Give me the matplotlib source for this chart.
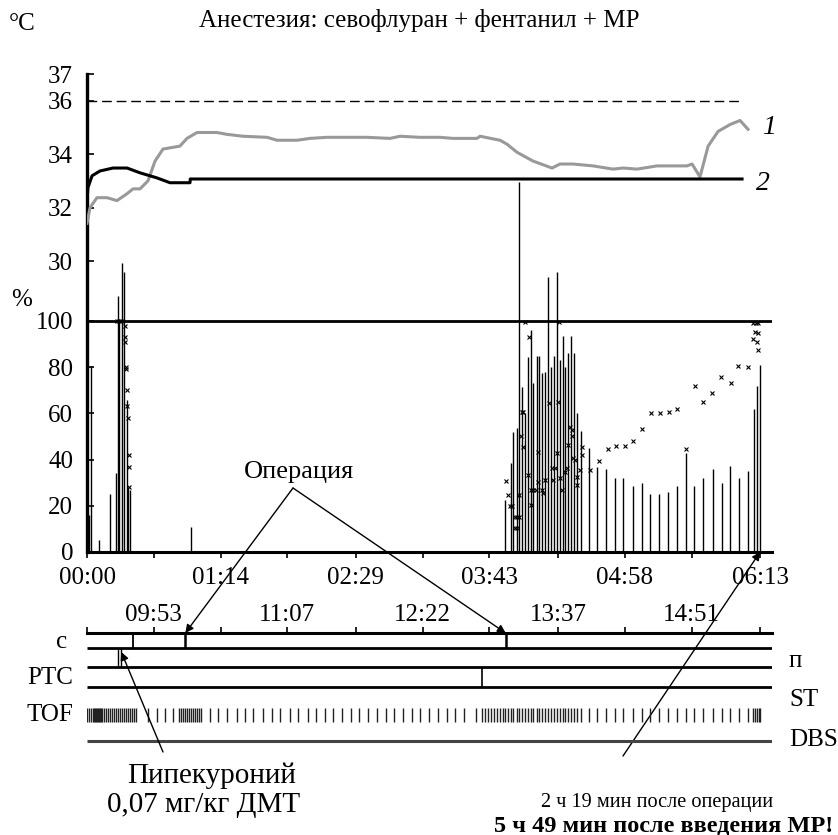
import matplotlib.pyplot as plt

plt.rcParams['font.family'] = ['Liberation Serif', 'DejaVu Serif']

W, H = 838, 835

# шкала времени (мин от начала записи) и часы
time_labels = ["00:00", "01:14", "02:29", "03:43", "04:58", "06:13"]
clock_start = "09:16"
clock_labels = ["09:53", "11:07", "12:22", "13:37", "14:51"]

# 1 - температура (серая), 2 - температура (черная)
t1_time = [0, 1.7, 5.5, 11.1, 16.6, 22.2, 25.5, 29.4, 33.8, 37.7, 42.1, 51.5, 55.4,
           61.0, 72.0, 77.6, 86.5, 99.8, 105.3, 116.4, 123.6, 133.0, 155.2, 167.9,
           173.5, 184.5, 195.6, 202.8, 216.1, 217.8, 228.9, 232.8, 238.3, 247.2,
           257.7, 262.1, 269.3, 280.4, 291.5, 297.1, 304.8, 315.9, 332.5, 335.3,
           339.7, 344.2, 349.7, 356.4, 361.9, 366.3]
t1_temp = [31.41, 32.0, 32.37, 32.37, 32.26, 32.52, 32.7, 32.7, 33.0, 33.74, 34.19,
           34.3, 34.59, 34.81, 34.81, 34.74, 34.67, 34.63, 34.52, 34.52, 34.59,
           34.63, 34.63, 34.59, 34.67, 34.63, 34.63, 34.59, 34.59, 34.67, 34.52,
           34.37, 34.07, 33.74, 33.48, 33.63, 33.63, 33.56, 33.44, 33.48, 33.44,
           33.56, 33.56, 33.63, 33.15, 34.3, 34.85, 35.11, 35.26, 34.93]
t2_time = [0, 0.5, 2.8, 7.2, 14.4, 22.2, 29.4, 38.8, 46.0, 57.1, 57.2, 363]
t2_temp = [32.2, 32.74, 33.19, 33.37, 33.48, 33.48, 33.3, 33.11, 32.93, 32.93, 33.07, 33.07]
temp_ref = 36

# % : высота столбиков (T1) и отношение TOF (крестики)
bar_time = [1.3, 2.2, 6.5, 12.7, 15.9, 17.3, 18.0, 19.2, 20.7, 22.0, 22.9, 23.8, 57.6,
            231.6, 234.8, 236.3, 238.1, 239.6, 240.9, 242.7, 244.2, 245.9, 247.3,
            249.2, 250.7, 252.2, 254.0, 255.7, 257.1, 258.8, 260.6, 262.1, 263.6,
            265.1, 266.7, 268.4, 270.1, 271.7, 273.6,
            278.4, 282.8, 287.6, 292.6, 297.2, 302.4, 307.4, 312.0, 317.2, 322.2,
            326.8, 332.0, 336.4, 341.6, 346.8, 351.7, 356.4, 361.5, 366.5, 369.6,
            371.5, 373.0]
bar_pct = [16, 80.5, 5, 25, 34, 111, 100, 125, 121, 66, 28, 27, 11,
           22.5, 38.7, 52, 53.7, 160, 71.6, 60, 84.6, 96, 73, 84.8, 84.8, 77.5, 78,
           119, 80, 84.8, 121, 83, 93.5, 80, 86, 93.5, 86, 60, 52.5,
           45, 37, 36, 32, 32, 28.6, 29.7, 25, 25, 26, 28.6, 42.7, 28.6, 32, 36,
           29.7, 37.4, 32, 35, 62, 72, 81]
ratio_time = [16.9, 17.7, 18.8, 20.8, 21.3, 21.3, 21.6, 21.6, 22.2, 22.4, 22.7, 23.0,
              23.0, 23.3,
              232.2, 233.5, 234.4, 235.4, 237.2, 238.5, 239.6, 237.2, 238.5, 239.6,
              240.5, 241.2, 241.6, 241.8, 242.7, 245.1, 244.2, 246.1, 247.3, 248.8,
              245.9, 249.9, 249.9, 252.2, 252.9, 253.8, 256.2, 257.7, 259.4, 258.4,
              260.6, 261.2, 261.8, 262.1, 263.1, 264.9, 266.2, 266.7, 267.7, 268.6,
              268.6, 269.5, 270.4, 271.4, 271.7, 273.2, 274.2, 274.2,
              278.8, 283.7, 288.6, 293.3, 298.2, 302.8, 307.8, 312.6, 317.6, 322.4,
              327.1, 332.1, 337.0, 341.6, 346.5, 351.2, 356.7, 361.0, 366.5,
              369.1, 370.5, 371.9, 370.2, 372.0, 369.3, 371.1, 372.0]
ratio_pct = [100, 100, 100, 98, 93, 91, 80, 79, 70, 63, 58, 42, 37, 28,
             30.7, 24.5, 20, 20, 15.3, 15.3, 15.3, 10.5, 10.5, 24.7,
             50, 60.6, 60.7, 45.6, 99.7, 93.2, 33.3, 26.8, 26.8, 26.8,
             20.3, 43.4, 30.4, 26.8, 25.4, 31.2, 64.4, 36.2, 36.2, 31.2,
             42.7, 65, 99.7, 31.9, 26.8, 34.8, 36.2, 46.3, 54.2, 52.8,
             50, 40.5, 39.8, 32.6, 29, 35.5, 45.6, 42,
             35.5, 39.4, 44.5, 45.9, 45.9, 48, 53.2, 60, 60, 60.7,
             61.9, 44.5, 71.9, 65, 69, 75.6, 73.3, 80.5, 80.2,
             99, 99, 99, 95.4, 95, 92, 91, 87.4]

# моменты стимуляции TOF
tof_time = [0, 1.1, 2.2, 3.3, 3.9, 4.4, 5.0, 5.5, 6.1, 6.7, 7.2, 7.8, 8.3, 9.4, 10.5,
            11.6, 12.7, 13.9, 15.0, 16.1, 17.2, 18.3, 19.4, 20.5, 21.6, 22.7, 23.8,
            24.9, 26.0, 27.2,
            34.0, 38.6, 43.2, 47.8,
            51.0, 52.1, 53.2, 54.3, 55.4, 56.5, 57.6, 58.7, 59.8, 60.9, 62.0, 63.1,
            68.2, 72.8, 77.4, 83.0, 87.6, 92.2, 97.4, 102.4, 107.0, 112.5, 117.1,
            122.6, 127.1, 131.9, 136.5, 141.5, 146.1, 150.9, 155.9, 160.5, 165.7,
            170.3, 175.3, 179.9, 184.5, 189.7, 194.4, 199.3, 203.9, 208.9, 215.4,
            218.9, 220.6, 222.2, 223.9, 225.6, 227.2, 228.9, 230.3, 231.6, 233.3,
            234.8, 236.3, 238.1, 239.6, 240.9, 242.7, 244.2, 245.9, 247.3, 249.2,
            250.7, 252.2, 254.0, 255.7, 257.1, 258.8, 260.6, 262.1, 263.6, 265.1,
            266.7, 268.4, 270.1, 271.7, 273.6,
            278.4, 282.8, 287.6, 292.6, 297.2, 302.4, 307.4, 312.0, 317.2, 322.2,
            326.8, 332.0, 336.4, 341.6, 346.8, 351.7, 356.4, 361.5, 366.5,
            369.1, 370.2, 371.3, 372.4, 373.0]

# события, мин
c_marks = [25.6]
op_start, op_end = 54.5, 232.0
pipec = [17.3, 18.6]
ptc_marks = [218.7]


def mins(s):
    h, m = s.split(':')
    return int(h) * 60 + int(m)


def box(x0, y0, x1, y1):
    # прямоугольник в пикселях картинки -> доли фигуры
    return [x0 / W, 1 - y1 / H, (x1 - x0) / W, (y1 - y0) / H]


def fp(x, y):
    return (x / W, 1 - y / H)


main_ticks = [mins(s) for s in time_labels]
clock_ticks = [mins(s) - mins(clock_start) for s in clock_labels]
all_ticks = sorted(main_ticks + clock_ticks)
xmax = 379.6
fs = 18

fig = plt.figure(figsize=(W / 100, H / 100), dpi=100)

# проценты
ax = fig.add_axes(box(87, 74, 772, 552))
ax.set_xlim(0, xmax)
ax.set_ylim(0, 206.9)
ax.patch.set_visible(False)
for s in ['top', 'right']:
    ax.spines[s].set_visible(False)
ax.spines['left'].set_linewidth(2.4)
ax.spines['bottom'].set_linewidth(2.2)
ax.vlines(bar_time, 0, bar_pct, color='black', lw=1)
ax.plot(ratio_time, ratio_pct, 'x', ms=3, mew=0.8, color='black')
ax.axhline(100, color='black', lw=2)
ax.set_yticks([0, 20, 40, 60, 80, 100])
ax.tick_params(axis='y', direction='in', length=5, width=1.2, labelsize=fs, pad=10)
ax.set_xticks(all_ticks)
ax.set_xticklabels([time_labels[main_ticks.index(t)] if t in main_ticks else ''
                    for t in all_ticks])
ax.tick_params(axis='x', direction='out', length=4, width=1.2, labelsize=fs, pad=7)

# температура
ax_t = fig.add_axes(box(87, 74, 772, 261))
ax_t.set_xlim(0, xmax)
ax_t.set_ylim(30, 37)
ax_t.patch.set_visible(False)
for s in ax_t.spines.values():
    s.set_visible(False)
ax_t.set_xticks([])
ax_t.set_yticks([30, 32, 34, 36, 37])
ax_t.tick_params(axis='y', direction='in', length=5, width=1.2, labelsize=fs, pad=10)
ax_t.plot(t1_time, t1_temp, color='#999999', lw=2.2)
ax_t.plot(t2_time, t2_temp, color='black', lw=2.2)
ax_t.hlines(temp_ref, 0, 363, color='black', lw=1, linestyles=(0, (7, 3.5)))
ax_t.text(374, 35.0, '1', fontsize=20, style='italic', va='center', clip_on=False)
ax_t.text(371, 32.9, '2', fontsize=20, style='italic', va='center', clip_on=False)

# полосы стимуляции
ax_b = fig.add_axes(box(87, 633, 772, 745))
ax_b.set_xlim(0, xmax)
ax_b.set_ylim(745, 633)
ax_b.patch.set_visible(False)
for s in ['bottom', 'left', 'right']:
    ax_b.spines[s].set_visible(False)
ax_b.spines['top'].set_linewidth(2.2)
ax_b.xaxis.tick_top()
ax_b.set_yticks([])
ax_b.set_xticks(all_ticks)
ax_b.set_xticklabels([clock_labels[clock_ticks.index(t)] if t in clock_ticks else ''
                      for t in all_ticks])
ax_b.tick_params(axis='x', direction='out', length=4, width=1.2, labelsize=fs, pad=1)
ax_b.hlines([648, 667, 687], 0, xmax, color='black', lw=2)
ax_b.hlines(741, 0, xmax, color='#444444', lw=2.2)
ax_b.vlines(c_marks, 633, 648, color='black', lw=1.3)
ax_b.vlines([op_start, op_end], 633, 648, color='black', lw=1.8)
ax_b.vlines(pipec, 648, 667, color='black', lw=1)
ax_b.vlines(ptc_marks, 667, 687, color='black', lw=1.2)
ax_b.vlines(tof_time, 708, 722, color='#222222', lw=1)

# подписи
fig.text(*fp(419, 20), 'Анестезия: севофлуран + фентанил + МР', fontsize=18,
         ha='center', va='center')
fig.text(*fp(22, 24), '°C', fontsize=fs, ha='center', va='center')
fig.text(*fp(22, 300), '%', fontsize=fs, ha='center', va='center')
fig.text(*fp(67, 642), 'с', fontsize=fs, ha='right', va='center')
fig.text(*fp(73, 678), 'PTC', fontsize=fs, ha='right', va='center')
fig.text(*fp(73, 715), 'TOF', fontsize=fs, ha='right', va='center')
fig.text(*fp(789, 661), 'п', fontsize=fs, ha='left', va='center')
fig.text(*fp(789, 700), 'ST', fontsize=fs, ha='left', va='center')
fig.text(*fp(789, 740), 'DBS', fontsize=fs, ha='left', va='center')
fig.text(*fp(299, 472), 'Операция', fontsize=19, ha='center', va='center')
fig.text(*fp(212, 776), 'Пипекуроний', fontsize=21, ha='center', va='center')
fig.text(*fp(204, 805), '0,07 мг/кг ДМТ', fontsize=21, ha='center', va='center')
fig.text(*fp(657, 803), '2 ч 19 мин после операции', fontsize=14.6, ha='center',
         va='center')
fig.text(*fp(664, 826), '5 ч 49 мин после введения МР!', fontsize=17.5, ha='center',
         va='center', weight='bold')

# стрелки
arrow = dict(arrowstyle='-|>', color='black', lw=1, mutation_scale=12, shrinkA=0, shrinkB=0)
ax_b.annotate('', xy=(op_start, 633), xytext=fp(293, 488), textcoords='figure fraction',
              arrowprops=arrow)
ax_b.annotate('', xy=(op_end, 633), xytext=fp(293, 488), textcoords='figure fraction',
              arrowprops=arrow)
ax_b.annotate('', xy=(19.0, 652), xytext=fp(163, 752), textcoords='figure fraction',
              arrowprops=arrow)
ax.annotate('', xy=(373, 0), xytext=fp(623, 756), textcoords='figure fraction',
            arrowprops=arrow, annotation_clip=False)

fig.savefig('out.png', dpi=100)
